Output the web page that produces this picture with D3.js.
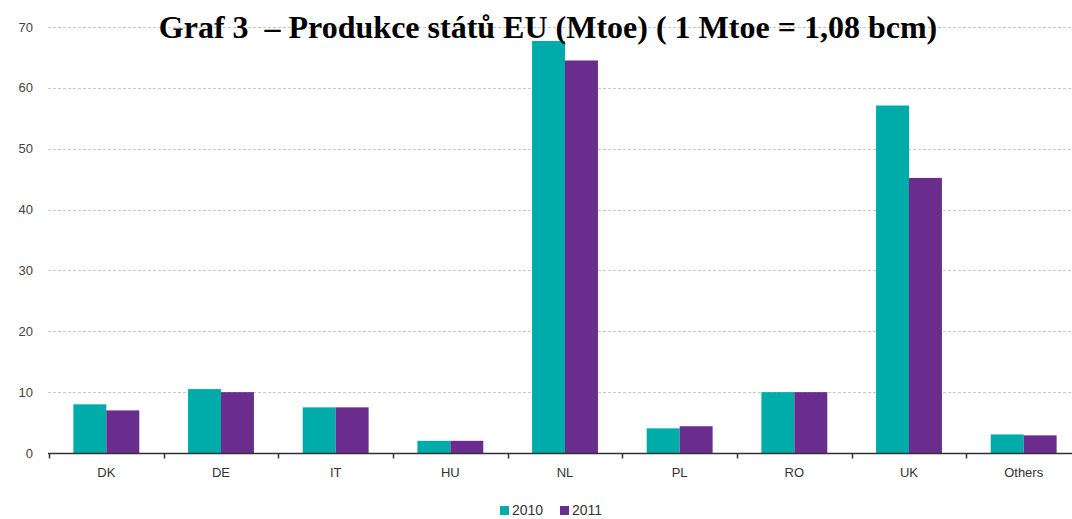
<!DOCTYPE html>
<html>
<head>
<meta charset="utf-8">
<script src="https://cdn.jsdelivr.net/npm/d3@7"></script>
<style>
  body { margin: 0; background: #fff; }
  svg { display: block; }
</style>
</head>
<body>
<svg id="chart"></svg>
<script>
const categories = ['DK', 'DE', 'IT', 'HU', 'NL', 'PL', 'RO', 'UK', 'Others'];
const years = ['2010', '2011'];
const values2010 = [8.0, 10.5, 7.5, 2.0, 67.7, 4.05, 10.0, 57.1, 3.05];
const values2011 = [7.0, 10.0, 7.5, 2.0, 64.5, 4.4, 10.0, 45.2, 2.9];
const yTicks = [0, 10, 20, 30, 40, 50, 60, 70];
const colors = ['#00aca9', '#6a2d8d'];

const width = 1072, height = 519;
const svg = d3.select('#chart').attr('width', width).attr('height', height);

const x = d3.scaleBand().domain(categories).range([49, 1081]).paddingInner(0).paddingOuter(0);
const xSub = d3.scaleBand().domain(years).range([0, x.bandwidth()]).paddingInner(0).paddingOuter(0.74);
const y = d3.scaleLinear().domain([0, 70]).range([453, 27]);

// gridlines
svg.append('g')
  .selectAll('line')
  .data(yTicks.filter(d => d > 0))
  .join('line')
  .attr('x1', 48).attr('x2', width)
  .attr('y1', d => Math.round(y(d)) + 0.5).attr('y2', d => Math.round(y(d)) + 0.5)
  .attr('stroke', '#c8c8c8')
  .attr('stroke-dasharray', '3,2');

// y tick labels
svg.append('g')
  .selectAll('text')
  .data(yTicks)
  .join('text')
  .attr('x', 33)
  .attr('y', d => y(d))
  .attr('dy', '0.35em')
  .attr('text-anchor', 'end')
  .attr('font-family', 'Liberation Sans, Arial, sans-serif')
  .attr('font-size', 13)
  .attr('fill', '#444')
  .text(d => d);

// bars
const series = [values2010, values2011];
const groups = svg.append('g')
  .selectAll('g')
  .data(categories)
  .join('g')
  .attr('transform', d => `translate(${x(d)},0)`);

groups.selectAll('rect')
  .data((d, i) => years.map((yr, j) => ({ yr, v: series[j][i], c: colors[j] })))
  .join('rect')
  .attr('x', d => xSub(d.yr))
  .attr('width', xSub.bandwidth())
  .attr('y', d => y(d.v))
  .attr('height', d => y(0) - y(d.v))
  .attr('fill', d => d.c);

// x axis
const xAxis = svg.append('g').attr('transform', `translate(0,${y(0) + 0.5})`);
xAxis.append('line')
  .attr('x1', 48).attr('x2', width)
  .attr('stroke', '#333').attr('stroke-width', 1.5);
xAxis.selectAll('.tick')
  .data(categories)
  .join('line')
  .attr('class', 'tick')
  .attr('x1', d => Math.round(x(d)) + 0.5).attr('x2', d => Math.round(x(d)) + 0.5)
  .attr('y1', 0).attr('y2', 5)
  .attr('stroke', '#333').attr('stroke-width', 1.5);
xAxis.selectAll('.lbl')
  .data(categories)
  .join('text')
  .attr('class', 'lbl')
  .attr('x', d => x(d) + x.bandwidth() / 2)
  .attr('y', 23)
  .attr('text-anchor', 'middle')
  .attr('font-family', 'Liberation Sans, Arial, sans-serif')
  .attr('font-size', 13)
  .attr('fill', '#333')
  .text(d => d);

// title
svg.append('text')
  .attr('x', 548)
  .attr('y', 38)
  .attr('text-anchor', 'middle')
  .attr('font-family', 'Liberation Serif, Times New Roman, serif')
  .attr('font-weight', 'bold')
  .attr('font-size', 32)
  .attr('fill', '#000')
  .attr('xml:space', 'preserve')
  .text('Graf 3  – Produkce států EU (Mtoe) ( 1 Mtoe = 1,08 bcm)');

// legend
const legend = svg.append('g').attr('transform', 'translate(500,515)');
const items = legend.selectAll('g')
  .data(years)
  .join('g')
  .attr('transform', (d, i) => `translate(${i * 60},0)`);
items.append('rect')
  .attr('x', 0).attr('y', -9)
  .attr('width', 9).attr('height', 9)
  .attr('fill', (d, i) => colors[i]);
items.append('text')
  .attr('x', 12).attr('y', 0)
  .attr('font-family', 'Liberation Sans, Arial, sans-serif')
  .attr('font-size', 14)
  .attr('fill', '#333')
  .text(d => d);
</script>
</body>
</html>
